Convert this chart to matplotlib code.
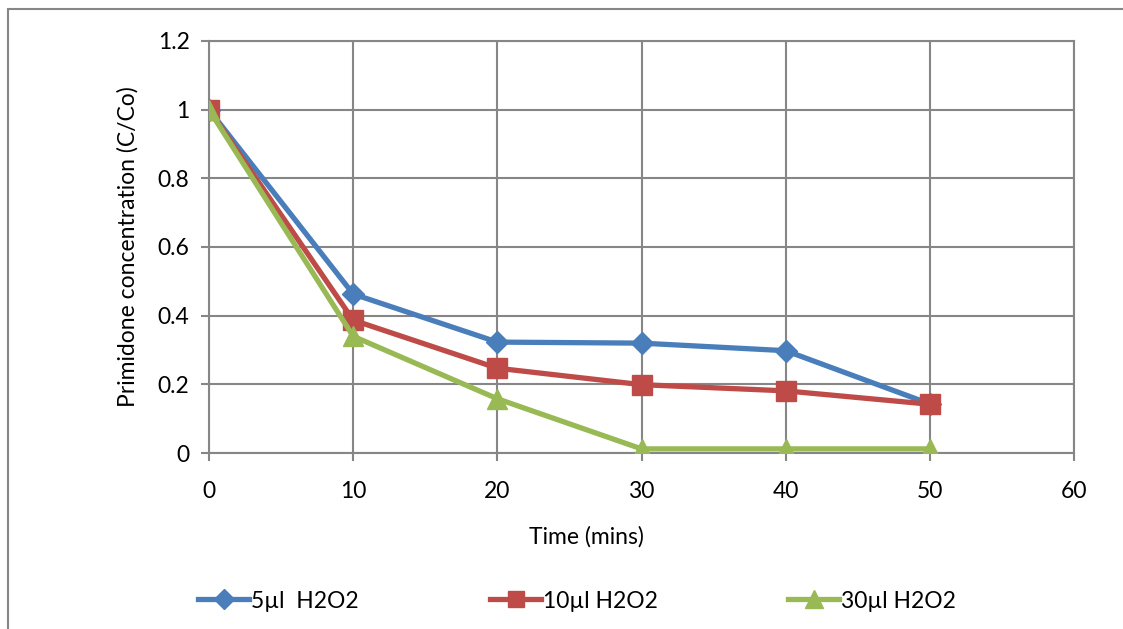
import matplotlib.pyplot as plt
from matplotlib.patches import Rectangle

# primidone degradation data
time_min = [0, 10, 20, 30, 40, 50]
c_5ul = [1.0, 0.463, 0.323, 0.320, 0.298, 0.143]
c_10ul = [1.0, 0.387, 0.247, 0.199, 0.181, 0.142]
c_30ul = [1.0, 0.340, 0.158, 0.012, 0.012, 0.012]
labels = ["5µl  H2O2", "10µl H2O2", "30µl H2O2"]

plt.rcParams["font.family"] = ["Lato", "DejaVu Sans"]
plt.rcParams["font.size"] = 16.5

W, H = 1123, 629
fig = plt.figure(figsize=(W / 100, H / 100), dpi=100)
ax = fig.add_axes([209 / W, 1 - 453 / H, (1074 - 209) / W, (453 - 41) / H])

grey = "#868686"
l1, = ax.plot(time_min, c_5ul, color="#4A7EBB", lw=3.8, marker="D", ms=11.5,
              label=labels[0], zorder=3)
l2, = ax.plot(time_min, c_10ul, color="#BE4B48", lw=3.8, marker="s", ms=14,
              label=labels[1], zorder=4)
l3, = ax.plot(time_min, c_30ul, color="#98B954", lw=3.8, marker="^", ms=15,
              label=labels[2], zorder=5)

ax.set_xlim(0, 60)
ax.set_ylim(0, 1.2)
ax.set_xticks(range(0, 61, 10))
ax.set_yticks([0, 0.2, 0.4, 0.6, 0.8, 1, 1.2])
ax.set_yticklabels(["0", "0.2", "0.4", "0.6", "0.8", "1", "1.2"])
ax.grid(True, color=grey, lw=1.5)
ax.set_axisbelow(True)
for s in ax.spines.values():
    s.set_color(grey)
    s.set_linewidth(1.5)
ax.tick_params(direction="out", length=6, width=1.5, color=grey, pad=8)
ax.tick_params(axis="x", pad=14)

ax.set_xlabel("Time (mins)")
ax.xaxis.set_label_coords(0.436, -0.178)
ax.set_ylabel("Primidone concentration (C/Co)", labelpad=14)

# legend entries spread along the bottom
for line, x0 in zip([l1, l2, l3], [187, 479, 777]):
    fig.legend(handles=[line], loc="center left",
               bbox_to_anchor=(x0 / W, 1 - 601 / H), frameon=False,
               handlelength=2.2, handletextpad=0.1, borderpad=0,
               markerscale=0.85)

# outer chart border
fig.patches.append(Rectangle((8 / W, -0.1), 1.2, 1.1 - 9 / H,
                             transform=fig.transFigure, fill=False,
                             edgecolor=grey, lw=1.5))

fig.savefig("out.png", dpi=100)
